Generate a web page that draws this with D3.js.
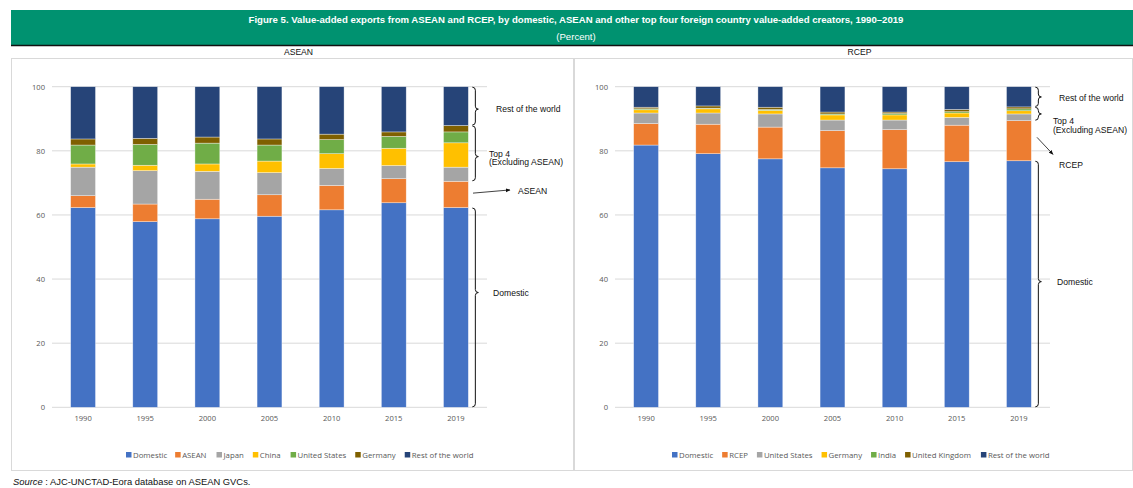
<!DOCTYPE html>
<html>
<head>
<meta charset="utf-8">
<script src="https://cdn.jsdelivr.net/npm/d3@7/dist/d3.min.js"></script>
<style>
  html, body { margin: 0; padding: 0; background: #fff; }
  svg { display: block; font-family: "Liberation Sans", Arial, sans-serif; }
  .tick text { fill: #595959; }
</style>
</head>
<body>
<svg id="chart" width="1133" height="488"></svg>
<script>
// Years shared by both panels
const years = ["1990", "1995", "2000", "2005", "2010", "2015", "2019"];
const yTicks = [0, 20, 40, 60, 80, 100];

// ASEAN exporters: value-added shares (%)
const aseanSeries = ["Domestic", "ASEAN", "Japan", "China", "United States", "Germany", "Rest of the world"];
const aseanDomestic = [62.3, 57.9, 58.8, 59.6, 61.6, 63.8, 62.3];
const aseanAsean    = [3.7, 5.5, 6.1, 6.7, 7.6, 7.5, 8.2];
const aseanJapan    = [8.9, 10.4, 8.7, 6.9, 5.3, 4.1, 4.4];
const aseanChina    = [1.0, 1.7, 2.3, 3.6, 4.6, 5.4, 7.6];
const aseanUS       = [5.9, 6.5, 6.5, 5.0, 4.4, 3.7, 3.4];
const aseanGermany  = [1.9, 1.9, 1.9, 1.9, 1.7, 1.4, 2.0];
const aseanRest     = [16.3, 16.1, 15.7, 16.3, 14.8, 14.1, 12.1];

// RCEP exporters: value-added shares (%)
const rcepSeries = ["Domestic", "RCEP", "United States", "Germany", "India", "United Kingdom", "Rest of the world"];
const rcepDomestic = [81.8, 79.1, 77.5, 74.7, 74.4, 76.6, 76.9];
const rcepRcep     = [6.7, 9.2, 9.9, 11.6, 12.2, 11.4, 12.5];
const rcepUS       = [3.3, 3.5, 4.1, 3.3, 3.0, 2.4, 2.1];
const rcepGermany  = [1.0, 1.3, 1.1, 1.6, 1.6, 1.4, 1.0];
const rcepIndia    = [0.3, 0.2, 0.3, 0.3, 0.4, 0.4, 0.6];
const rcepUK       = [0.5, 0.7, 0.7, 0.6, 0.5, 0.7, 0.6];
const rcepRest     = [6.4, 6.0, 6.4, 7.9, 7.9, 7.1, 6.3];

const palette = ["#4472C4", "#ED7D31", "#A5A5A5", "#FFC000", "#70AD47", "#7F6000", "#264478"];

function buildRows(series, cols) {
  return years.map((yr, i) => {
    const row = { year: yr };
    series.forEach((s, k) => { row[s] = cols[k][i]; });
    return row;
  });
}

const panels = [
  {
    title: "ASEAN",
    series: aseanSeries,
    rows: buildRows(aseanSeries, [aseanDomestic, aseanAsean, aseanJapan, aseanChina, aseanUS, aseanGermany, aseanRest]),
    box: [11, 58, 574, 470],
    plot: [52, 487],
    legendX: 126,
    legendGap: [8, 10, 9, 10, 9, 9],
    braces: [
      { from: 100, to: 87.9, tip: 93.0, label: ["Rest of the world"], lx: 496, ly: 0 },
      { from: 87.9, to: 70.5, tip: 78.2, label: ["Top 4", "(Excluding ASEAN)"], lx: 489, ly: -3 },
      { from: 62.3, to: 0, tip: 35.8, label: ["Domestic"], lx: 493, ly: 0 }
    ],
    arrow: { from: [473, 66.8], to: [510, 67.8], label: "ASEAN", lx: 518, lv: 67.6 }
  },
  {
    title: "RCEP",
    series: rcepSeries,
    rows: buildRows(rcepSeries, [rcepDomestic, rcepRcep, rcepUS, rcepGermany, rcepIndia, rcepUK, rcepRest]),
    box: [574, 58, 1133, 470],
    plot: [615, 1050],
    legendX: 672,
    legendGap: [9, 9, 9, 9, 9, 10],
    braces: [
      { from: 100, to: 93.7, tip: 96.8, label: ["Rest of the world"], lx: 1059, ly: 1 },
      { from: 93.7, to: 89.4, tip: 91.5, label: ["Top 4", "(Excluding ASEAN)"], lx: 1053, ly: 7.5 },
      { from: 76.9, to: 0, tip: 39.2, label: ["Domestic"], lx: 1057, ly: 0 }
    ],
    arrow: { from: [1037, 84.2], to: [1053, 78.9], label: "RCEP", lx: 1059, lv: 75.6 }
  }
];

const svg = d3.select("#chart");

// Header band
svg.append("rect").attr("x", 11).attr("y", 10).attr("width", 1122).attr("height", 35).attr("fill", "#009270");
svg.append("line").attr("x1", 11).attr("x2", 1133).attr("y1", 45.5).attr("y2", 45.5)
  .attr("stroke", "#111").attr("stroke-width", 1.5);
svg.append("text").attr("x", 576).attr("y", 23).attr("text-anchor", "middle")
  .attr("fill", "#fff").attr("font-weight", "bold").attr("font-size", 9.6)
  .text("Figure 5. Value-added exports from ASEAN and RCEP, by domestic, ASEAN and other top four foreign country value-added creators, 1990\u20132019");
svg.append("text").attr("x", 576).attr("y", 40).attr("text-anchor", "middle")
  .attr("fill", "#fff").attr("font-size", 9.6).text("(Percent)");

const y = d3.scaleLinear().domain([0, 100]).range([407.3, 86.7]);

function bracePath(x, y1, y2, ym, w) {
  const h = w / 2, r = 3;
  return `M${x},${y1} Q${x + h},${y1} ${x + h},${y1 + r} L${x + h},${ym - r} Q${x + h},${ym} ${x + w},${ym}` +
         ` Q${x + h},${ym} ${x + h},${ym + r} L${x + h},${y2 - r} Q${x + h},${y2} ${x},${y2}`;
}

svg.append("defs").append("marker").attr("id", "arrowhead")
  .attr("viewBox", "0 0 10 10").attr("refX", 9).attr("refY", 5)
  .attr("markerWidth", 6).attr("markerHeight", 6).attr("orient", "auto")
  .append("path").attr("d", "M0,1 L10,5 L0,9 Z").attr("fill", "#111");

panels.forEach(p => {
  const [bx0, by0, bx1, by1] = p.box;
  svg.append("rect").attr("x", bx0 + 0.5).attr("y", by0 + 0.5)
    .attr("width", bx1 - bx0 - 1).attr("height", by1 - by0)
    .attr("fill", "none").attr("stroke", "#d9d9d9").attr("stroke-width", 1);

  svg.append("text").attr("x", (bx0 + bx1) / 2 + 6).attr("y", 55).attr("text-anchor", "middle")
    .attr("font-size", 8.6).attr("fill", "#111").text(p.title);

  const x = d3.scaleBand().domain(years).range(p.plot).paddingInner(0.6).paddingOuter(0.3);

  // gridlines
  const g = svg.append("g");
  g.selectAll("line.grid").data(yTicks).join("line")
    .attr("x1", p.plot[0]).attr("x2", p.plot[1])
    .attr("y1", d => y(d)).attr("y2", d => y(d))
    .attr("stroke", "#d9d9d9").attr("stroke-width", 1);

  // y axis labels
  const ya = svg.append("g").attr("transform", `translate(${p.plot[0] - 3},0)`)
    .call(d3.axisLeft(y).tickValues(yTicks).tickSize(0).tickPadding(4));
  ya.select(".domain").remove();
  ya.selectAll("text").attr("font-size", 7.6).attr("font-family", "'Open Sans', sans-serif");

  // stacked bars
  const stack = d3.stack().keys(p.series)(p.rows);
  const color = d3.scaleOrdinal().domain(p.series).range(palette);
  svg.append("g").selectAll("g").data(stack).join("g")
    .attr("fill", d => color(d.key))
    .selectAll("rect").data(d => d).join("rect")
    .attr("x", d => x(d.data.year))
    .attr("width", x.bandwidth())
    .attr("y", d => y(d[1]))
    .attr("height", d => y(d[0]) - y(d[1]))
    .attr("stroke", "#fff").attr("stroke-opacity", 0.6).attr("stroke-width", 0.6);

  // x axis labels
  const xa = svg.append("g").attr("transform", `translate(0,${y(0) + 4})`)
    .call(d3.axisBottom(x).tickSize(0).tickPadding(4));
  xa.select(".domain").remove();
  xa.selectAll("text").attr("font-size", 7.6).attr("font-family", "'Open Sans', sans-serif");

  // bracket annotations
  const bx = x(years[years.length - 1]) + x.bandwidth() + 4;
  p.braces.forEach(b => {
    svg.append("path").attr("d", bracePath(bx, y(b.from) + 0.5, y(b.to) - 0.5, y(b.tip), 6))
      .attr("fill", "none").attr("stroke", "#111").attr("stroke-width", 1);
    b.label.forEach((t, i) => {
      svg.append("text").attr("x", b.lx).attr("y", y(b.tip) + 3 + b.ly + i * 8.5)
        .attr("font-size", 8.6).attr("fill", "#111").text(t);
    });
  });

  // arrow annotation
  const a = p.arrow;
  svg.append("line").attr("x1", a.from[0]).attr("y1", y(a.from[1]))
    .attr("x2", a.to[0]).attr("y2", y(a.to[1]))
    .attr("stroke", "#111").attr("stroke-width", 0.8).attr("marker-end", "url(#arrowhead)");
  svg.append("text").attr("x", a.lx).attr("y", y(a.lv) + 3)
    .attr("font-size", 8.6).attr("fill", "#111").text(a.label);

  // legend
  const lg = svg.append("g").attr("transform", `translate(${p.legendX},457)`);
  let cx = 0;
  p.series.forEach((s, i) => {
    const item = lg.append("g").attr("transform", `translate(${cx},0)`);
    item.append("rect").attr("x", 0).attr("y", -5).attr("width", 5.5).attr("height", 5.5).attr("fill", palette[i]);
    const t = item.append("text").attr("x", 7).attr("y", 0.7).attr("font-size", 7.8)
      .attr("font-family", "'Open Sans', sans-serif").attr("fill", "#595959").text(s);
    cx += 7 + t.node().getComputedTextLength() + (p.legendGap[i] || 0);
  });
});

// source note
const src = svg.append("text").attr("x", 13).attr("y", 485).attr("font-size", 9.4).attr("fill", "#111");
src.append("tspan").attr("font-style", "italic").text("Source");
src.append("tspan").text(" : AJC-UNCTAD-Eora database on ASEAN GVCs.");
</script>
</body>
</html>
